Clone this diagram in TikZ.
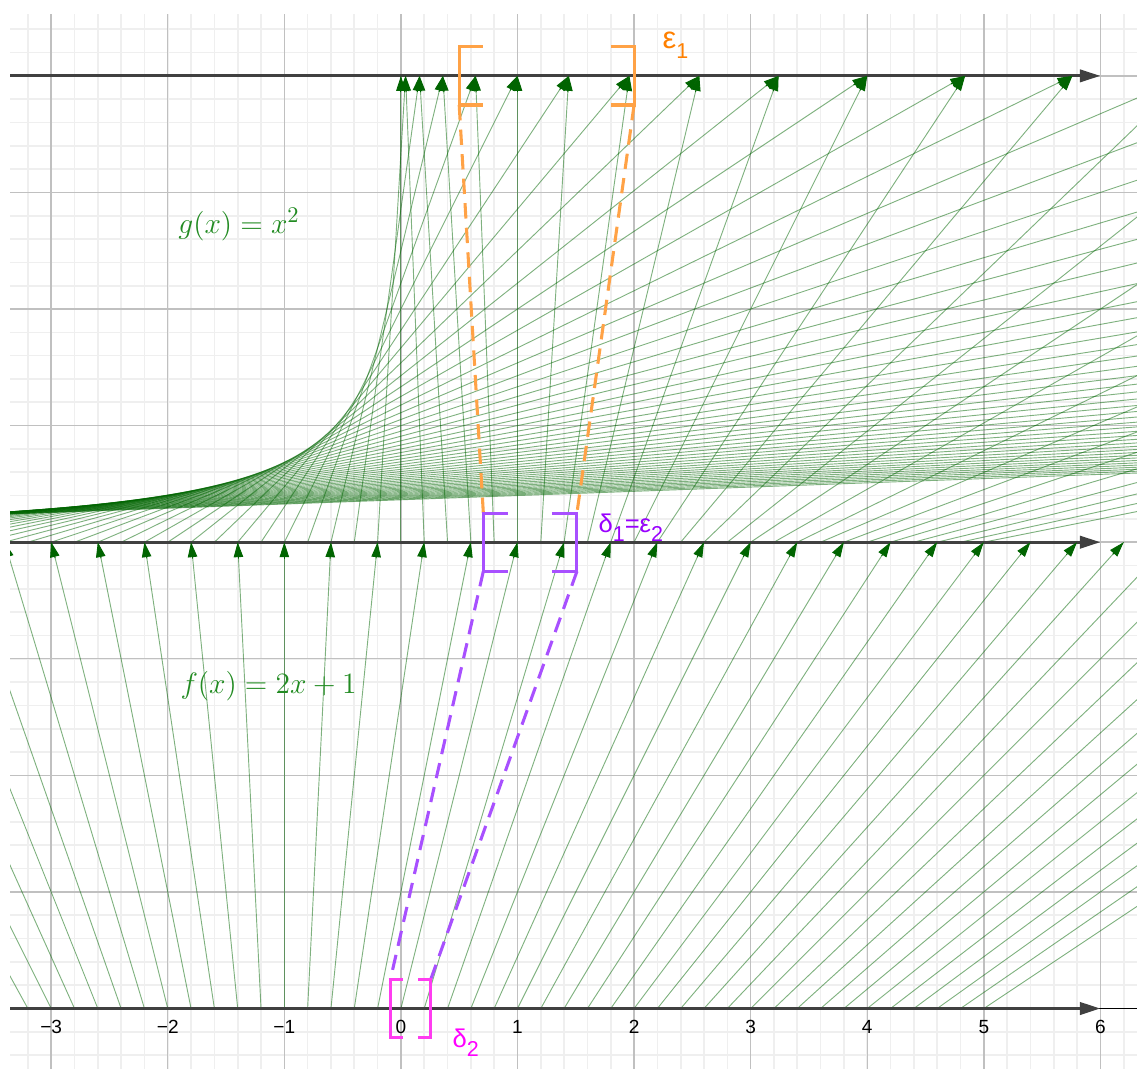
\documentclass[tikz,border=0pt]{standalone}
\usepackage{fontspec}
\newfontfamily\ggbfont{Liberation Sans}
\usetikzlibrary{arrows.meta,calc}

\definecolor{gridminor}{RGB}{239,239,239}
\definecolor{gridmajor}{RGB}{192,192,192}
\definecolor{axisgrey}{RGB}{64,64,64}
\definecolor{mapgreen}{RGB}{0,100,0}
\definecolor{labelgreen}{RGB}{34,139,34}
\definecolor{epsorange}{RGB}{255,128,0}
\definecolor{brkorange}{RGB}{255,162,70}
\definecolor{delpurple}{RGB}{153,0,255}
\definecolor{brkpurple}{RGB}{168,80,255}
\definecolor{delmagenta}{RGB}{255,0,255}
\definecolor{brkmagenta}{RGB}{255,60,240}

\tikzset{
  mapline/.style={mapgreen, draw opacity=0.5, line width=0.45pt},
  maptip/.style={mapgreen, line width=0.45pt, -{Triangle[length=7.3pt,width=4.6pt]}},
  numline/.style={axisgrey, line width=1.5pt, -{Triangle[length=10pt,width=6pt]}},
  bracket/.style={line width=1.5pt},
  link/.style={line width=1.5pt, dash pattern=on 7.5pt off 4.5pt},
  ticklabel/.style={font=\ggbfont\fontsize{9.3}{11}\selectfont, inner sep=0pt, anchor=base},
  greek/.style={font=\ggbfont\fontsize{12.5}{14}\selectfont, inner sep=0pt, anchor=base west},
  funclabel/.style={labelgreen, font=\fontsize{15.5}{18}\selectfont, inner sep=0pt, anchor=base west}
}
\newcommand{\lowsub}[1]{\raisebox{-4.5pt}{\fontsize{10.5}{12}\selectfont #1}}

\begin{document}
\begin{tikzpicture}[x=2cm,y=2cm]
  \useasboundingbox (-3.439,-0.5135) rectangle (6.314,8.651);
  \begin{scope}
    \clip (-3.352,-0.5135) rectangle (6.314,8.528);
    % GRID
    \draw[gridminor, line width=0.8pt, step=0.2] (-3.6,-0.6) grid (6.4,8.6);
    \draw[gridmajor, line width=0.7pt, step=1] (-3.6,-0.6) grid (6.4,8.6);
    \draw[black, line width=0.5pt] (-3.6,0) -- (6.4,0);
    % f(x) = 2x+1 : bottom line to middle line
    \foreach \i in {-25,...,25} {
      \pgfmathsetmacro{\xs}{\i/5}
      \pgfmathsetmacro{\xe}{2*\xs+1}
      \draw[mapline] (\xs,0) -- (\xe,4);
    }
    % g(x) = x^2 : middle line to top line (long ones cut at x = 7)
    \foreach \i in {-50,...,25} {
      \pgfmathsetmacro{\xs}{\i/5}
      \pgfmathsetmacro{\xe}{\xs*\xs}
      \pgfmathsetmacro{\xt}{min(\xe,7)}
      \pgfmathsetmacro{\yt}{ifthenelse(\xe>7,4+4*(7-\xs)/max(\xe-\xs,0.01),8)}
      \draw[mapline] (\xs,4) -- (\xt,\yt);
    }
    % number lines
    \draw[numline] (-3.6,0) -- (6,0);
    \draw[numline] (-3.6,4) -- (6,4);
    \draw[numline] (-3.6,8) -- (6,8);
    % arrow heads
    \foreach \i in {-25,...,25} {
      \pgfmathsetmacro{\xs}{\i/5}
      \pgfmathsetmacro{\xe}{2*\xs+1}
      \draw[maptip] ($(\xe,4)!8pt!(\xs,0)$) -- (\xe,4);
    }
    \foreach \i in {-13,...,13} {
      \pgfmathsetmacro{\xs}{\i/5}
      \pgfmathsetmacro{\xe}{\xs*\xs}
      \draw[maptip] ($(\xe,8)!8pt!(\xs,4)$) -- (\xe,8);
    }
  \end{scope}
  % EPSILON 1 on the top line
  \draw[bracket, brkorange] (0.7,8.25) -- (0.5,8.25) -- (0.5,7.75) -- (0.7,7.75);
  \draw[bracket, brkorange] (1.8,8.25) -- (2,8.25) -- (2,7.75) -- (1.8,7.75);
  \draw[link, brkorange] (0.5,7.75) -- (0.707,4.25);
  \draw[link, brkorange] (2,7.75) -- (1.51,4.25);
  % DELTA 1 = EPSILON 2 on the middle line
  \draw[bracket, brkpurple] (0.917,4.25) -- (0.707,4.25) -- (0.707,3.75) -- (0.917,3.75);
  \draw[bracket, brkpurple] (1.295,4.25) -- (1.51,4.25) -- (1.51,3.75) -- (1.295,3.75);
  \draw[link, brkpurple] (0.707,3.75) -- (-0.09,0.25);
  \draw[link, brkpurple] (1.51,3.75) -- (0.256,0.25);
  % DELTA 2 on the bottom line
  \draw[bracket, brkmagenta] (0.02,0.25) -- (-0.09,0.25) -- (-0.09,-0.25) -- (0.02,-0.25);
  \draw[bracket, brkmagenta] (0.147,0.25) -- (0.256,0.25) -- (0.256,-0.25) -- (0.147,-0.25);
  % labels
  \node[greek, epsorange, font=\ggbfont\fontsize{15}{17}\selectfont] (eps1) at (2.241,8.239) {ε\raisebox{-5pt}{\fontsize{10.5}{12}\selectfont 1}};
  \node[greek, delpurple] (del1) at (1.692,4.087) {δ\lowsub{1}=ε\lowsub{2}};
  \node[greek, delmagenta] (del2) at (0.439,-0.332) {δ\lowsub{2}};
  \node[funclabel] (glabel) at (-1.912,6.65) {$g(x) = x^2$};
  \node[funclabel] (flabel) at (-1.894,2.706) {$f(x) = 2x + 1$};
  \foreach \n/\t in {-3/−3,-2/−2,-1/−1,0/0,1/1,2/2,3/3,4/4,5/5,6/6}
    \node[ticklabel] (t\n) at (\n,-0.215) {\t};
\end{tikzpicture}
\end{document}
